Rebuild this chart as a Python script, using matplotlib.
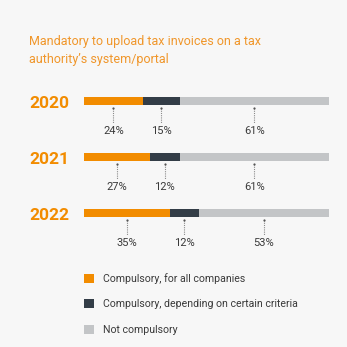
import matplotlib
matplotlib.use("Agg")
import matplotlib.pyplot as plt
import matplotlib.transforms as mtransforms
from matplotlib.patches import Patch

years = ["2020", "2021", "2022"]
all_companies = [24, 27, 35]
criteria = [15, 12, 12]
not_compulsory = [61, 61, 53]
series_names = ["Compulsory, for all companies",
                "Compulsory, depending on certain criteria",
                "Not compulsory"]
colors = ["#f28c00", "#333d47", "#c3c5c7"]
title = "Mandatory to upload tax invoices on a tax\nauthority\u2019s system/portal"

plt.rcParams['font.family'] = ['Roboto', 'DejaVu Sans']
W = H = 347
fig = plt.figure(figsize=(W / 100, H / 100), dpi=100)
fig.patch.set_facecolor("#f7f7f7")

# axes: x from 84px to 329px, y from 73px to 241px
ax = fig.add_axes([84 / W, 1 - 241 / H, (329 - 84) / W, (241 - 73) / H])
ax.set_facecolor("none")
ax.set_xlim(0, 100)
ax.set_ylim(2.5, -0.5)
ax.axis("off")

ypos = list(range(len(years)))
bar_h = 8 / 56
lefts = [0] * len(years)
for vals, col in zip([all_companies, criteria, not_compulsory], colors):
    ax.barh(ypos, vals, left=lefts, height=bar_h, color=col, edgecolor="none")
    for i, (l, v) in enumerate(zip(lefts, vals)):
        cx = l + v / 2
        y = ypos[i]
        ax.plot([cx, cx], [y + 0.13, y + 0.39], color="#8a8a8a", lw=0.8,
                linestyle=(0, (1, 1)))
        ax.plot([cx], [y + 0.13], marker="o", ms=1.6, color="#555555", mec="none")
        ax.text(cx, y + 0.53, f"{v}%", ha="center", va="center",
                fontsize=8, color="#3a3a3a")
    lefts = [a + b for a, b in zip(lefts, vals)]

trans = mtransforms.blended_transform_factory(fig.transFigure, ax.transData)
for y, yr in zip(ypos, years):
    fig.text(29 / W, y + 0.05, yr, transform=trans, ha="left", va="center",
             fontsize=12.5, fontweight="bold", color="#f28c00")

fig.text(29 / W, 1 - 35 / H, title, ha="left", va="top", fontsize=9,
         color="#f0962a", linespacing=1.45)

handles = [Patch(facecolor=c, edgecolor="none") for c in colors]
fig.legend(handles, series_names, loc="upper left",
           bbox_to_anchor=(84 / W, 1 - 273 / H), frameon=False, fontsize=7.6,
           handlelength=0.95, handleheight=0.95, handletextpad=0.85,
           labelspacing=1.45, labelcolor="#3a3a3a", borderpad=0, borderaxespad=0)

fig.savefig("out.png", dpi=100, facecolor=fig.get_facecolor())
